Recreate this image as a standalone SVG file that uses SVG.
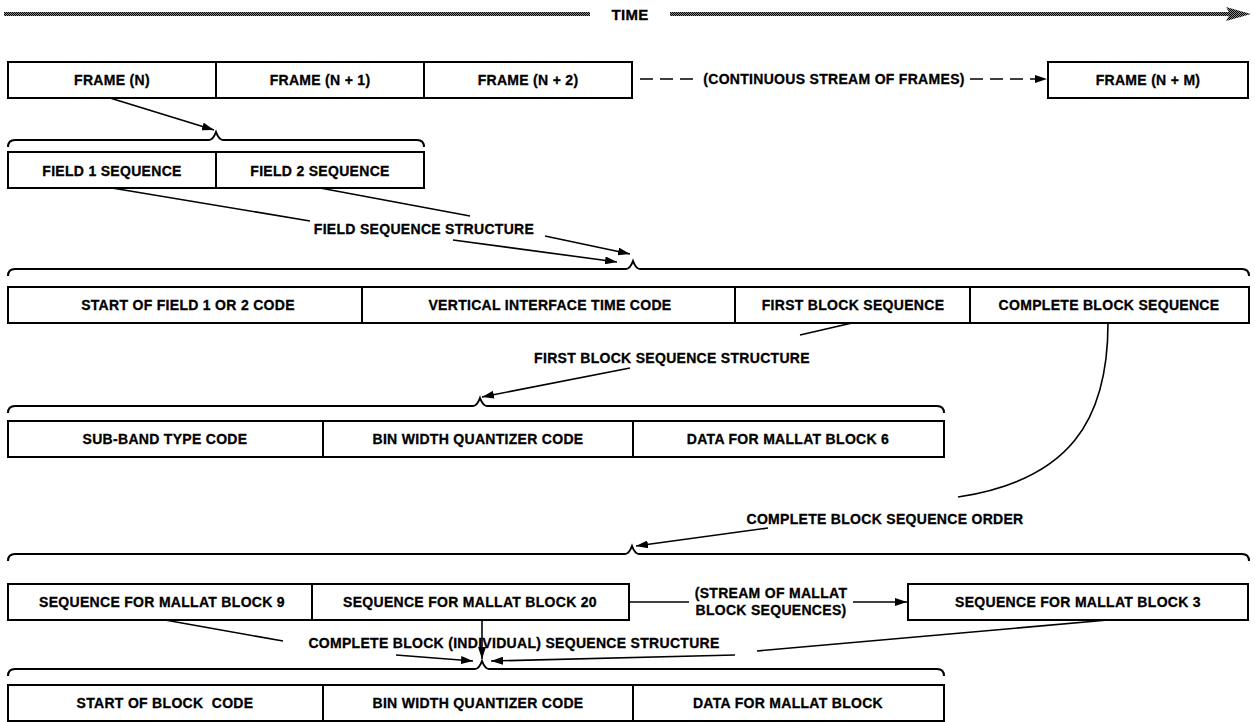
<svg xmlns="http://www.w3.org/2000/svg" width="1255" height="722" viewBox="0 0 1255 722">
<defs>
<pattern id="chk" patternUnits="userSpaceOnUse" width="2" height="2">
<rect x="0" y="0" width="2" height="2" fill="#8a8a8a"/>
<rect x="0" y="0" width="1" height="1" fill="#000"/>
<rect x="1" y="1" width="1" height="1" fill="#000"/>
</pattern>
<marker id="ah" viewBox="0 0 12 8" refX="12" refY="4" markerWidth="12" markerHeight="8" markerUnits="userSpaceOnUse" orient="auto">
<path d="M0,0 L12,4 L0,8 Z" fill="#000"/>
</marker>
</defs>
<style>
.box{fill:#fff;stroke:#000;stroke-width:2}
.div{stroke:#000;stroke-width:2}
.br{fill:none;stroke:#000;stroke-width:2}
.ln{fill:none;stroke:#000;stroke-width:1.6}
.arr{fill:none;stroke:#000;stroke-width:1.6;marker-end:url(#ah)}
.t{font-family:"Liberation Sans",Arial,sans-serif;font-weight:bold;font-size:14px;letter-spacing:0.3px;fill:#000;stroke:#000;stroke-width:0.3;text-anchor:middle;dominant-baseline:central}
</style>
<rect width="1255" height="722" fill="#fff"/>

<g id="time">
<rect x="4" y="12" width="586" height="4" fill="url(#chk)"/>
<rect x="670" y="12" width="562" height="4" fill="url(#chk)"/>
<path d="M1226,7 L1251,14 L1226,21 L1230,14 Z" fill="url(#chk)"/>
<text class="t" x="630" y="14" style="font-size:15px">TIME</text>
</g>

<g id="frames">
<rect class="box" x="8" y="62" width="624" height="36"/>
<line class="div" x1="216" y1="62" x2="216" y2="98"/>
<line class="div" x1="424" y1="62" x2="424" y2="98"/>
<text class="t" x="112" y="80">FRAME (N)</text>
<text class="t" x="320" y="80">FRAME (N + 1)</text>
<text class="t" x="528" y="80">FRAME (N + 2)</text>
</g>
<g id="frameNM">
<rect class="box" x="1048" y="62" width="200" height="36"/>
<text class="t" x="1148" y="80">FRAME (N + M)</text>
</g>
<g id="stream-label">
<text class="t" x="834" y="79">(CONTINUOUS STREAM OF FRAMES)</text>
</g>

<g id="fields">
<path class="br" d="M8,147 Q8,140 15,140 L209,140 Q213,140 216,132 Q219,140 223,140 L417,140 Q424,140 424,147"/>
<rect class="box" x="8" y="152" width="416" height="36"/>
<line class="div" x1="216" y1="152" x2="216" y2="188"/>
<text class="t" x="112" y="171">FIELD 1 SEQUENCE</text>
<text class="t" x="320" y="171">FIELD 2 SEQUENCE</text>
</g>

<g id="field-structure">
<path class="br" d="M8,276 Q8,269 15,269 L626,269 Q630,269 633,261 Q636,269 640,269 L1242,269 Q1249,269 1249,276"/>
<rect class="box" x="8" y="287" width="1241" height="36"/>
<line class="div" x1="362" y1="287" x2="362" y2="323"/>
<line class="div" x1="735" y1="287" x2="735" y2="323"/>
<line class="div" x1="970" y1="287" x2="970" y2="323"/>
<text class="t" x="188" y="305">START OF FIELD 1 OR 2 CODE</text>
<text class="t" x="550" y="305">VERTICAL INTERFACE TIME CODE</text>
<text class="t" x="853" y="305">FIRST BLOCK SEQUENCE</text>
<text class="t" x="1109" y="305">COMPLETE BLOCK SEQUENCE</text>
</g>

<g id="first-block">
<path class="br" d="M8,413 Q8,406 15,406 L473,406 Q477,406 480,398 Q483,406 487,406 L937,406 Q944,406 944,413"/>
<rect class="box" x="8" y="421" width="936" height="36"/>
<line class="div" x1="323" y1="421" x2="323" y2="457"/>
<line class="div" x1="633" y1="421" x2="633" y2="457"/>
<text class="t" x="165" y="439">SUB-BAND TYPE CODE</text>
<text class="t" x="478" y="439">BIN WIDTH QUANTIZER CODE</text>
<text class="t" x="788" y="439">DATA FOR MALLAT BLOCK 6</text>
</g>

<g id="mallat-seq">
<path class="br" d="M8,561 Q8,554 15,554 L625,554 Q629,554 632,546 Q635,554 639,554 L1242,554 Q1249,554 1249,561"/>
<rect class="box" x="8" y="584" width="621" height="36"/>
<line class="div" x1="312" y1="584" x2="312" y2="620"/>
<text class="t" x="162" y="602">SEQUENCE FOR MALLAT BLOCK 9</text>
<text class="t" x="470" y="602">SEQUENCE FOR MALLAT BLOCK 20</text>
</g>
<g id="mallat3">
<rect class="box" x="908" y="584" width="340" height="36"/>
<text class="t" x="1078" y="602">SEQUENCE FOR MALLAT BLOCK 3</text>
</g>
<g id="mallat-stream-label">
<text class="t" x="771" y="593">(STREAM OF MALLAT</text>
<text class="t" x="771" y="610">BLOCK SEQUENCES)</text>
</g>

<g id="block-structure">
<path class="br" d="M8,676 Q8,669 15,669 L475,669 Q479,669 482,661 Q485,669 489,669 L937,669 Q944,669 944,676"/>
<rect class="box" x="8" y="685" width="936" height="36"/>
<line class="div" x1="323" y1="685" x2="323" y2="721"/>
<line class="div" x1="633" y1="685" x2="633" y2="721"/>
<text class="t" x="165" y="703" xml:space="preserve">START OF BLOCK  CODE</text>
<text class="t" x="478" y="703">BIN WIDTH QUANTIZER CODE</text>
<text class="t" x="788" y="703">DATA FOR MALLAT BLOCK</text>
</g>

<g id="labels">
<text class="t" x="514" y="643">COMPLETE BLOCK (INDIVIDUAL) SEQUENCE STRUCTURE</text>
<text class="t" x="424" y="229">FIELD SEQUENCE STRUCTURE</text>
<text class="t" x="672" y="358">FIRST BLOCK SEQUENCE STRUCTURE</text>
<text class="t" x="885" y="519">COMPLETE BLOCK SEQUENCE ORDER</text>
</g>

<g id="connectors">
<line class="ln" x1="640" y1="79" x2="700" y2="79" stroke-dasharray="13,7"/>
<line class="arr" x1="970" y1="79" x2="1047" y2="79" stroke-dasharray="13,7"/>
<line class="arr" x1="110" y1="98" x2="214" y2="130"/>
<line class="ln" x1="112" y1="188" x2="310" y2="221"/>
<line class="arr" x1="453" y1="240" x2="617" y2="262"/>
<line class="ln" x1="320" y1="188" x2="470" y2="216"/>
<line class="arr" x1="545" y1="236" x2="630" y2="254"/>
<line class="ln" x1="852" y1="323" x2="800" y2="335"/>
<line class="arr" x1="630" y1="368" x2="482" y2="397"/>
<path class="ln" d="M1108,323 C1108,420 1070,480 958,497"/>
<line class="arr" x1="768" y1="528" x2="636" y2="546"/>
<line class="ln" x1="629" y1="602" x2="689" y2="602"/>
<line class="arr" x1="853" y1="602" x2="907" y2="602"/>
<line class="arr" x1="482" y1="620" x2="482" y2="659"/>
<line class="ln" x1="165" y1="620" x2="283" y2="641"/>
<line class="arr" x1="396" y1="655" x2="473" y2="661"/>
<line class="ln" x1="1108" y1="620" x2="757" y2="651"/>
<line class="arr" x1="735" y1="655" x2="491" y2="661"/>
</g>
</svg>
